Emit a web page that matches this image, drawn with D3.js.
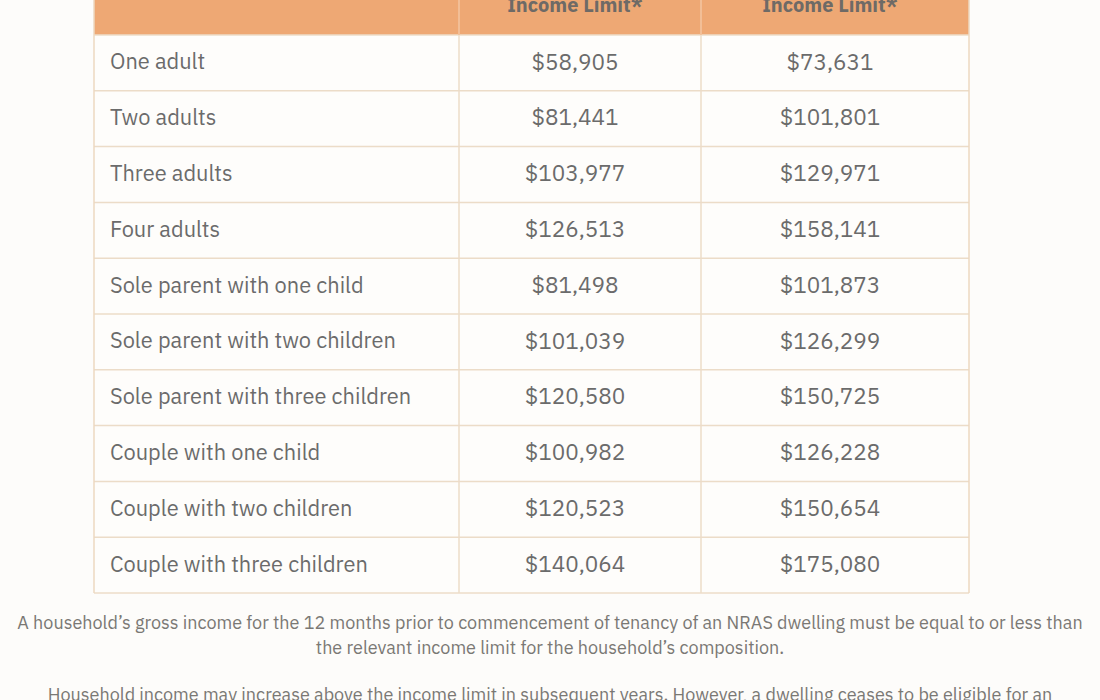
<!DOCTYPE html>
<html><head><meta charset="utf-8">
<script src="https://cdn.jsdelivr.net/npm/d3@7"></script>
<style>
html,body{margin:0;padding:0;background:#fdfcfa;}
svg{display:block;}
</style></head>
<body>
<svg id="chart" width="1100" height="700"></svg>
<script>
const households = ["One adult","Two adults","Three adults","Four adults","Sole parent with one child","Sole parent with two children","Sole parent with three children","Couple with one child","Couple with two children","Couple with three children"];
const initialLimit = [58905,81441,103977,126513,81498,101039,120580,100982,120523,140064];
const ongoingLimit = [73631,101801,129971,158141,101873,126299,150725,126228,150654,175080];
const headers = ["", "Income Limit*", "Income Limit*"];
const notes = [
  "A household\u2019s gross income for the 12 months prior to commencement of tenancy of an NRAS dwelling must be equal to or less than",
  "the relevant income limit for the household\u2019s composition.",
  "Household income may increase above the income limit in subsequent years. However, a dwelling ceases to be eligible for an"
];

const svg = d3.select("#chart");
const font = "'IBM Plex Sans','Open Sans','Noto Sans',sans-serif";
const fmt = d3.format("$,");

const left = 94, right = 969, headTop = -20, headBottom = 35, bottom = 593;
const colEdges = [left, 459, 701, right];
const y = d3.scaleBand().domain(households).range([headBottom, bottom]);

svg.append("rect").attr("x", left).attr("y", headTop).attr("width", right-left).attr("height", headBottom-headTop)
  .attr("fill", "#eea874");

svg.selectAll("rect.row").data(households).join("rect").attr("class","row")
  .attr("x", left).attr("y", d => y(d)).attr("width", right-left).attr("height", y.bandwidth())
  .attr("fill", "#fefdfb");

const lineCol = "#ecdcc8";
svg.selectAll("line.h").data(households.concat(["__end"])).join("line").attr("class","h")
  .attr("x1", left).attr("x2", right)
  .attr("y1", d => d==="__end" ? bottom : y(d)).attr("y2", d => d==="__end" ? bottom : y(d))
  .attr("stroke", lineCol).attr("stroke-width", 1.5);
svg.selectAll("line.v").data(colEdges).join("line").attr("class","v")
  .attr("x1", d=>d).attr("x2", d=>d).attr("y1", headTop).attr("y2", bottom)
  .attr("stroke", (d,i)=> (i===0||i===3)? "#ecd8c0" : lineCol).attr("stroke-width", 1.5);
svg.selectAll("line.hv").data([459,701]).join("line")
  .attr("x1", d=>d).attr("x2", d=>d).attr("y1", headTop).attr("y2", headBottom)
  .attr("stroke", "#f3b98c").attr("stroke-width", 1.5);

const colCenters = [110, 575, 830];
svg.selectAll("text.head").data(headers).join("text").attr("class","head")
  .attr("x", (d,i)=>colCenters[i]).attr("y", 12)
  .attr("text-anchor","middle")
  .attr("font-family", font).attr("font-weight", 700).attr("font-size", 20)
  .attr("fill", "#6e6a66").text(d=>d);

const textCol = "#6b6b6b";
const fs = 22.5;
svg.selectAll("text.cat").data(households).join("text").attr("class","cat")
  .attr("x", 110).attr("y", d => y(d) + y.bandwidth()/2).attr("dy","0.3em")
  .attr("font-family", font).attr("font-size", 21.8).attr("fill", textCol).text(d=>d);
svg.selectAll("text.v1").data(initialLimit).join("text").attr("class","v1")
  .attr("x", colCenters[1]).attr("y", (d,i) => y(households[i]) + y.bandwidth()/2).attr("dy","0.3em")
  .attr("text-anchor","middle")
  .attr("font-family", font).attr("font-size", fs).attr("fill", textCol).text(d=>fmt(d));
svg.selectAll("text.v2").data(ongoingLimit).join("text").attr("class","v2")
  .attr("x", colCenters[2]).attr("y", (d,i) => y(households[i]) + y.bandwidth()/2).attr("dy","0.3em")
  .attr("text-anchor","middle")
  .attr("font-family", font).attr("font-size", fs).attr("fill", textCol).text(d=>fmt(d));

const noteY = [629, 654, 701];
svg.selectAll("text.note").data(notes).join("text").attr("class","note")
  .attr("x", 550).attr("y", (d,i)=>noteY[i]).attr("text-anchor","middle")
  .attr("font-family", font).attr("font-size", 18).attr("fill", "#7a7874").text(d=>d);
</script>
</body></html>
